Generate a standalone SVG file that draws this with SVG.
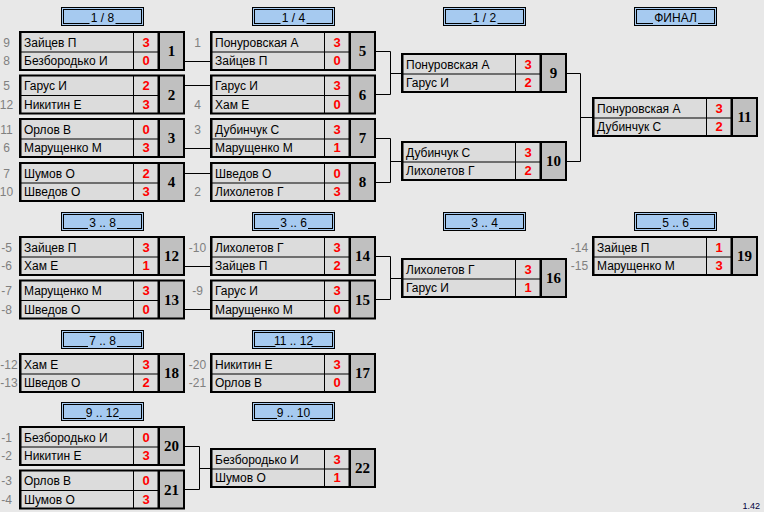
<svg xmlns="http://www.w3.org/2000/svg" xmlns:xlink="http://www.w3.org/1999/xlink" width="764" height="512" viewBox="0 0 764 512">
<style>
.nm{font-family:"Liberation Sans",Arial,sans-serif;font-size:12px;fill:#000}
.sc{font-family:"Liberation Sans",Arial,sans-serif;font-size:13px;font-weight:bold;fill:#ff0000;text-anchor:middle}
.num{font-family:"Liberation Serif","Times New Roman",serif;font-size:15px;font-weight:bold;fill:#000;text-anchor:middle}
.sd{font-family:"Liberation Sans",Arial,sans-serif;font-size:12px;fill:#808080;text-anchor:middle}
.ht{font-family:"Liberation Sans",Arial,sans-serif;font-size:12px;fill:#000;text-anchor:middle}
.hb{fill:#a6caf0}
.ver{font-family:"Liberation Sans",Arial,sans-serif;font-size:9px;fill:#000040;text-anchor:end}
</style>
<defs>
<g id="box">
<rect x="0" y="0" width="166" height="40" fill="#000"/>
<rect x="2.5" y="2" width="111.5" height="18.5" fill="#dcdcdc"/>
<rect x="2.5" y="21.5" width="111.5" height="16.5" fill="#dcdcdc"/>
<rect x="115" y="2" width="23.5" height="18.5" fill="#dcdcdc"/>
<rect x="115" y="21.5" width="23.5" height="16.5" fill="#dcdcdc"/>
<rect x="141" y="2" width="23" height="36" fill="#c0c0c0"/>
</g>
<g id="hdr">
<rect x="0.5" y="0.5" width="82" height="18" fill="#a6caf0" stroke="#000"/>
<rect x="2.5" y="2.5" width="78" height="14" fill="none" stroke="#000"/>
</g>
</defs>
<rect x="0" y="0" width="764" height="512" fill="#e8e8e8"/>

<g id="connectors" stroke="#000" stroke-width="1" fill="none">
<path d="M185 61.5H210M185 85.5H210M185 148.5H210M185 173.5H210"/>
<path d="M375 51.5H390.5M375 94.5H390.5M390.5 51.5V94.5M390.5 73.5H401"/>
<path d="M375 138.5H390.5M375 182.5H390.5M390.5 138.5V182.5M390.5 161.5H401"/>
<path d="M566 73.5H580.5M566 161.5H580.5M580.5 73.5V161.5M580.5 117.5H592"/>
<path d="M185 266.5H210M185 309.5H210"/>
<path d="M375 256.5H390.5M375 299.5H390.5M390.5 256.5V299.5M390.5 278.5H401"/>
<path d="M185 446.5H199.5M185 489.5H199.5M199.5 446.5V489.5M199.5 468.5H210"/>
</g>

<g id="h18" transform="translate(61,7)"><use xlink:href="#hdr" href="#hdr"/><rect class="hb" x="28.5" y="14" width="26" height="4"/><text class="ht" x="41.5" y="14.5">1 / 8</text></g>
<g id="h14" transform="translate(252,7)"><use xlink:href="#hdr" href="#hdr"/><rect class="hb" x="28.5" y="14" width="26" height="4"/><text class="ht" x="41.5" y="14.5">1 / 4</text></g>
<g id="h12" transform="translate(443,7)"><use xlink:href="#hdr" href="#hdr"/><rect class="hb" x="28.5" y="14" width="26" height="4"/><text class="ht" x="41.5" y="14.5">1 / 2</text></g>
<g id="hfin" transform="translate(634,7)"><use xlink:href="#hdr" href="#hdr"/><rect class="hb" x="19" y="14" width="45" height="4"/><text class="ht" x="41.5" y="14.5">ФИНАЛ</text></g>
<g id="h38" transform="translate(61,212)"><use xlink:href="#hdr" href="#hdr"/><rect class="hb" x="27" y="14" width="29" height="4"/><text class="ht" x="41.5" y="14.5">3 .. 8</text></g>
<g id="h36" transform="translate(252,212)"><use xlink:href="#hdr" href="#hdr"/><rect class="hb" x="27" y="14" width="29" height="4"/><text class="ht" x="41.5" y="14.5">3 .. 6</text></g>
<g id="h34" transform="translate(443,212)"><use xlink:href="#hdr" href="#hdr"/><rect class="hb" x="27" y="14" width="29" height="4"/><text class="ht" x="41.5" y="14.5">3 .. 4</text></g>
<g id="h56" transform="translate(634,212)"><use xlink:href="#hdr" href="#hdr"/><rect class="hb" x="27" y="14" width="29" height="4"/><text class="ht" x="41.5" y="14.5">5 .. 6</text></g>
<g id="h78" transform="translate(61,330)"><use xlink:href="#hdr" href="#hdr"/><rect class="hb" x="27" y="14" width="29" height="4"/><text class="ht" x="41.5" y="14.5">7 .. 8</text></g>
<g id="h1112" transform="translate(252,330)"><use xlink:href="#hdr" href="#hdr"/><rect class="hb" x="23.5" y="14" width="36" height="4"/><text class="ht" x="41.5" y="14.5">11 .. 12</text></g>
<g id="h912" transform="translate(61,402)"><use xlink:href="#hdr" href="#hdr"/><rect class="hb" x="25" y="14" width="33" height="4"/><text class="ht" x="41.5" y="14.5">9 .. 12</text></g>
<g id="h910" transform="translate(252,402)"><use xlink:href="#hdr" href="#hdr"/><rect class="hb" x="25" y="14" width="33" height="4"/><text class="ht" x="41.5" y="14.5">9 .. 10</text></g>

<g id="m1" transform="translate(19,31)"><use xlink:href="#box" href="#box"/><text class="sd" x="-12.5" y="15.5">9</text><text class="sd" x="-12.5" y="34">8</text><text class="nm" x="5" y="15.5">Зайцев П</text><text class="sc" x="127" y="15.5">3</text><text class="nm" x="5" y="34">Безбородько И</text><text class="sc" x="127" y="34">0</text><text class="num" x="152.5" y="25">1</text></g>
<g id="m2" transform="translate(19,74.5)"><use xlink:href="#box" href="#box"/><text class="sd" x="-12.5" y="15.5">5</text><text class="sd" x="-12.5" y="34">12</text><text class="nm" x="5" y="15.5">Гарус И</text><text class="sc" x="127" y="15.5">2</text><text class="nm" x="5" y="34">Никитин Е</text><text class="sc" x="127" y="34">3</text><text class="num" x="152.5" y="25">2</text></g>
<g id="m3" transform="translate(19,118)"><use xlink:href="#box" href="#box"/><text class="sd" x="-12.5" y="15.5">11</text><text class="sd" x="-12.5" y="34">6</text><text class="nm" x="5" y="15.5">Орлов В</text><text class="sc" x="127" y="15.5">0</text><text class="nm" x="5" y="34">Марущенко М</text><text class="sc" x="127" y="34">3</text><text class="num" x="152.5" y="25">3</text></g>
<g id="m4" transform="translate(19,162)"><use xlink:href="#box" href="#box"/><text class="sd" x="-12.5" y="15.5">7</text><text class="sd" x="-12.5" y="34">10</text><text class="nm" x="5" y="15.5">Шумов О</text><text class="sc" x="127" y="15.5">2</text><text class="nm" x="5" y="34">Шведов О</text><text class="sc" x="127" y="34">3</text><text class="num" x="152.5" y="25">4</text></g>
<g id="m5" transform="translate(210,31)"><use xlink:href="#box" href="#box"/><text class="sd" x="-12.5" y="15.5">1</text><text class="nm" x="5" y="15.5">Понуровская А</text><text class="sc" x="127" y="15.5">3</text><text class="nm" x="5" y="34">Зайцев П</text><text class="sc" x="127" y="34">0</text><text class="num" x="152.5" y="25">5</text></g>
<g id="m6" transform="translate(210,74.5)"><use xlink:href="#box" href="#box"/><text class="sd" x="-12.5" y="34">4</text><text class="nm" x="5" y="15.5">Гарус И</text><text class="sc" x="127" y="15.5">3</text><text class="nm" x="5" y="34">Хам Е</text><text class="sc" x="127" y="34">0</text><text class="num" x="152.5" y="25">6</text></g>
<g id="m7" transform="translate(210,118)"><use xlink:href="#box" href="#box"/><text class="sd" x="-12.5" y="15.5">3</text><text class="nm" x="5" y="15.5">Дубинчук С</text><text class="sc" x="127" y="15.5">3</text><text class="nm" x="5" y="34">Марущенко М</text><text class="sc" x="127" y="34">1</text><text class="num" x="152.5" y="25">7</text></g>
<g id="m8" transform="translate(210,162)"><use xlink:href="#box" href="#box"/><text class="sd" x="-12.5" y="34">2</text><text class="nm" x="5" y="15.5">Шведов О</text><text class="sc" x="127" y="15.5">0</text><text class="nm" x="5" y="34">Лихолетов Г</text><text class="sc" x="127" y="34">3</text><text class="num" x="152.5" y="25">8</text></g>
<g id="m9" transform="translate(401,53)"><use xlink:href="#box" href="#box"/><text class="nm" x="5" y="15.5">Понуровская А</text><text class="sc" x="127" y="15.5">3</text><text class="nm" x="5" y="34">Гарус И</text><text class="sc" x="127" y="34">2</text><text class="num" x="152.5" y="25">9</text></g>
<g id="m10" transform="translate(401,141)"><use xlink:href="#box" href="#box"/><text class="nm" x="5" y="15.5">Дубинчук С</text><text class="sc" x="127" y="15.5">3</text><text class="nm" x="5" y="34">Лихолетов Г</text><text class="sc" x="127" y="34">2</text><text class="num" x="152.5" y="25">10</text></g>
<g id="m11" transform="translate(592,97)"><use xlink:href="#box" href="#box"/><text class="nm" x="5" y="15.5">Понуровская А</text><text class="sc" x="127" y="15.5">3</text><text class="nm" x="5" y="34">Дубинчук С</text><text class="sc" x="127" y="34">2</text><text class="num" x="152.5" y="25">11</text></g>
<g id="m12" transform="translate(19,236)"><use xlink:href="#box" href="#box"/><text class="sd" x="-12.5" y="15.5">-5</text><text class="sd" x="-12.5" y="34">-6</text><text class="nm" x="5" y="15.5">Зайцев П</text><text class="sc" x="127" y="15.5">3</text><text class="nm" x="5" y="34">Хам Е</text><text class="sc" x="127" y="34">1</text><text class="num" x="152.5" y="25">12</text></g>
<g id="m13" transform="translate(19,279.5)"><use xlink:href="#box" href="#box"/><text class="sd" x="-12.5" y="15.5">-7</text><text class="sd" x="-12.5" y="34">-8</text><text class="nm" x="5" y="15.5">Марущенко М</text><text class="sc" x="127" y="15.5">3</text><text class="nm" x="5" y="34">Шведов О</text><text class="sc" x="127" y="34">0</text><text class="num" x="152.5" y="25">13</text></g>
<g id="m14" transform="translate(210,236)"><use xlink:href="#box" href="#box"/><text class="sd" x="-12.5" y="15.5">-10</text><text class="nm" x="5" y="15.5">Лихолетов Г</text><text class="sc" x="127" y="15.5">3</text><text class="nm" x="5" y="34">Зайцев П</text><text class="sc" x="127" y="34">2</text><text class="num" x="152.5" y="25">14</text></g>
<g id="m15" transform="translate(210,279.5)"><use xlink:href="#box" href="#box"/><text class="sd" x="-12.5" y="15.5">-9</text><text class="nm" x="5" y="15.5">Гарус И</text><text class="sc" x="127" y="15.5">3</text><text class="nm" x="5" y="34">Марущенко М</text><text class="sc" x="127" y="34">0</text><text class="num" x="152.5" y="25">15</text></g>
<g id="m16" transform="translate(401,258)"><use xlink:href="#box" href="#box"/><text class="nm" x="5" y="15.5">Лихолетов Г</text><text class="sc" x="127" y="15.5">3</text><text class="nm" x="5" y="34">Гарус И</text><text class="sc" x="127" y="34">1</text><text class="num" x="152.5" y="25">16</text></g>
<g id="m19" transform="translate(592,236)"><use xlink:href="#box" href="#box"/><text class="sd" x="-12.5" y="15.5">-14</text><text class="sd" x="-12.5" y="34">-15</text><text class="nm" x="5" y="15.5">Зайцев П</text><text class="sc" x="127" y="15.5">1</text><text class="nm" x="5" y="34">Марущенко М</text><text class="sc" x="127" y="34">3</text><text class="num" x="152.5" y="25">19</text></g>
<g id="m18" transform="translate(19,353)"><use xlink:href="#box" href="#box"/><text class="sd" x="-10" y="15.5">-12</text><text class="sd" x="-10" y="34">-13</text><text class="nm" x="5" y="15.5">Хам Е</text><text class="sc" x="127" y="15.5">3</text><text class="nm" x="5" y="34">Шведов О</text><text class="sc" x="127" y="34">2</text><text class="num" x="152.5" y="25">18</text></g>
<g id="m17" transform="translate(210,353)"><use xlink:href="#box" href="#box"/><text class="sd" x="-12.5" y="15.5">-20</text><text class="sd" x="-12.5" y="34">-21</text><text class="nm" x="5" y="15.5">Никитин Е</text><text class="sc" x="127" y="15.5">3</text><text class="nm" x="5" y="34">Орлов В</text><text class="sc" x="127" y="34">0</text><text class="num" x="152.5" y="25">17</text></g>
<g id="m20" transform="translate(19,426)"><use xlink:href="#box" href="#box"/><text class="sd" x="-12.5" y="15.5">-1</text><text class="sd" x="-12.5" y="34">-2</text><text class="nm" x="5" y="15.5">Безбородько И</text><text class="sc" x="127" y="15.5">0</text><text class="nm" x="5" y="34">Никитин Е</text><text class="sc" x="127" y="34">3</text><text class="num" x="152.5" y="25">20</text></g>
<g id="m21" transform="translate(19,469.5)"><use xlink:href="#box" href="#box"/><text class="sd" x="-12.5" y="15.5">-3</text><text class="sd" x="-12.5" y="34">-4</text><text class="nm" x="5" y="15.5">Орлов В</text><text class="sc" x="127" y="15.5">0</text><text class="nm" x="5" y="34">Шумов О</text><text class="sc" x="127" y="34">3</text><text class="num" x="152.5" y="25">21</text></g>
<g id="m22" transform="translate(210,448)"><use xlink:href="#box" href="#box"/><text class="nm" x="5" y="15.5">Безбородько И</text><text class="sc" x="127" y="15.5">3</text><text class="nm" x="5" y="34">Шумов О</text><text class="sc" x="127" y="34">1</text><text class="num" x="152.5" y="25">22</text></g>

<text class="ver" x="760" y="509">1.42</text>
</svg>
